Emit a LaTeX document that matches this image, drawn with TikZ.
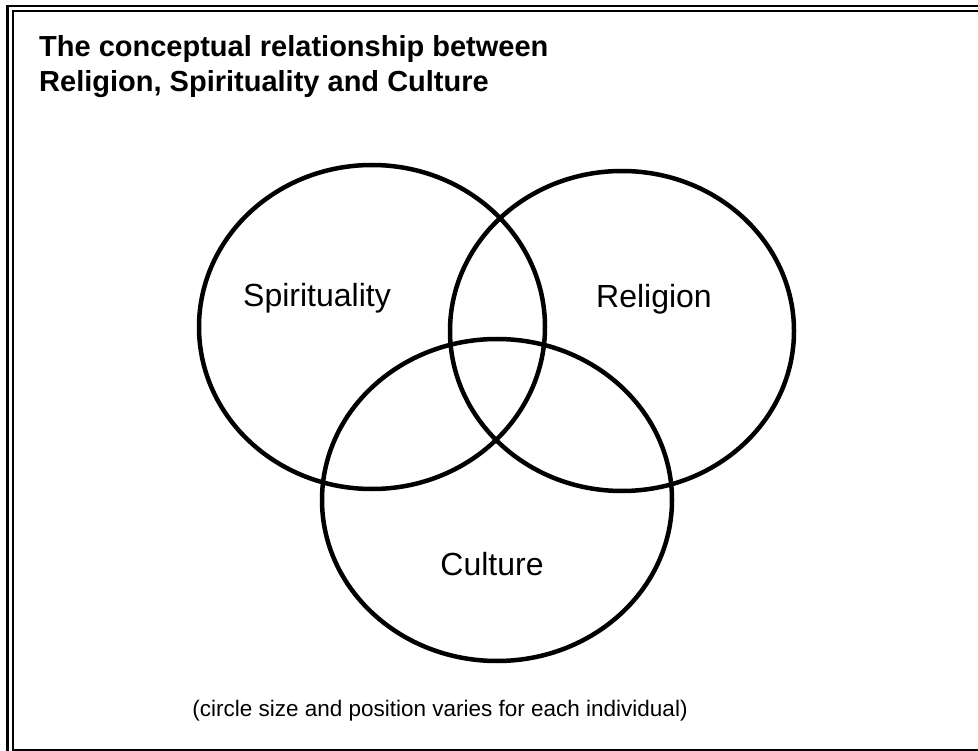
\documentclass[tikz,border=0pt]{standalone}
\usepackage{fontspec}
\setmainfont{Liberation Sans}
\begin{document}
\begin{tikzpicture}[x=1pt,y=-1pt,
  venn/.style={draw=black,line width=4.5pt},
  lab/.style={font=\fontsize{32}{38}\selectfont,inner sep=0pt,anchor=base},
  ttl/.style={font=\fontsize{29}{34}\selectfont\bfseries,inner sep=0pt,anchor=base west},
  note/.style={font=\fontsize{22.5}{27}\selectfont,inner sep=0pt,anchor=base}]
\useasboundingbox (0,0) rectangle (978,751);
\clip (0,0) rectangle (978,751);
\fill[white] (0,0) rectangle (978,751);
% frame
\draw[line width=2.6pt] (7.5,6) rectangle (1000,770);
\draw[line width=2pt] (13,11.5) rectangle (995,750);
% circles
\draw[venn] (372,327) ellipse [x radius=173, y radius=162];
\draw[venn] (622,331) ellipse [x radius=172, y radius=160];
\draw[venn] (497,500) ellipse [x radius=175, y radius=161];
% labels
\node[lab] (spi) at (317,307) {Spirituality};
\node[lab] (rel) at (654,308) {Religion};
\node[lab] (cul) at (492,575) {Culture};
\node[ttl] (t1) at (39,57) {The conceptual relationship between};
\node[ttl] (t2) at (39,92) {Religion, Spirituality and Culture};
\node[note] (nt) at (440,716) {(circle size and position varies for each individual)};
\end{tikzpicture}
\end{document}
